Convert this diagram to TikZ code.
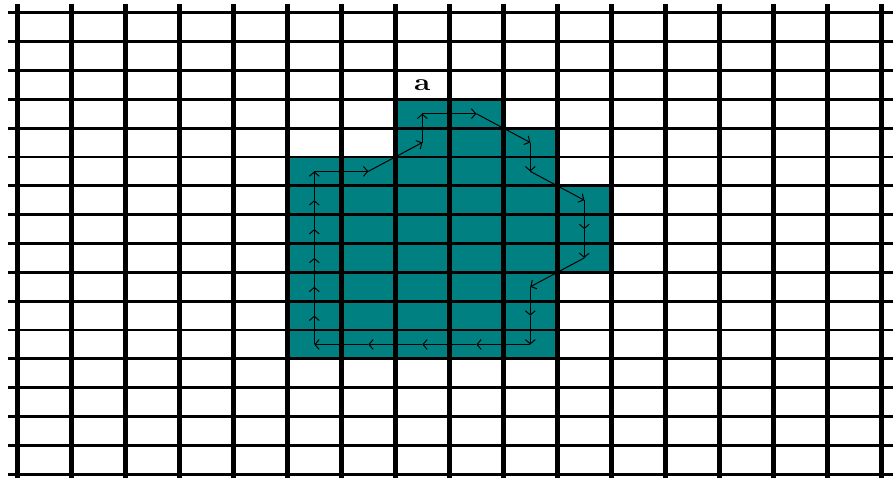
\documentclass[tikz,border=0pt]{standalone}
\usetikzlibrary{arrows.meta,positioning}
\definecolor{cellteal}{RGB}{0,128,128}

\begin{document}
\begin{tikzpicture}[
  x=1.35cm, y=-0.72125cm,
  region/.style={fill=cellteal},
  vline/.style={line width=3.7pt},
  hline/.style={line width=2pt},
  chain/.style={-{Straight Barb[length=3pt,width=7pt]}, line width=0.7pt},
  tag/.style={font=\fontsize{17}{20}\selectfont\bfseries, xscale=1.25}
]
\useasboundingbox (-0.3204,-0.4402) rectangle (16.2167,16.1976);

\fill[region] (5,5) -| (7,3) -| (9,4) -| (10,6) -| (11,9) -| (10,12) -| (5,5) -- cycle;

\foreach \k in {0,...,16} \draw[vline] (\k,-0.3016) -- (\k,16.127);
\foreach \k in {0,...,16} \draw[hline] (-0.1722,\k) -- (16.2167,\k);

\foreach \c/\r [count=\i] in {5/5,6/5,7/4,7/3,8/3,9/4,9/5,10/6,10/7,10/8,9/9,9/10,9/11,8/11,7/11,6/11,5/11,5/10,5/9,5/8,5/7,5/6}
  \coordinate (p\i) at (\c+0.5,\r+0.5);
\foreach \i in {1,...,22} {
  \pgfmathtruncatemacro{\j}{mod(\i,22)+1}
  \draw[chain] (p\i) -- (p\j);
}

\node[tag] (a) at (7.5,2.5) {a};
\end{tikzpicture}
\end{document}
